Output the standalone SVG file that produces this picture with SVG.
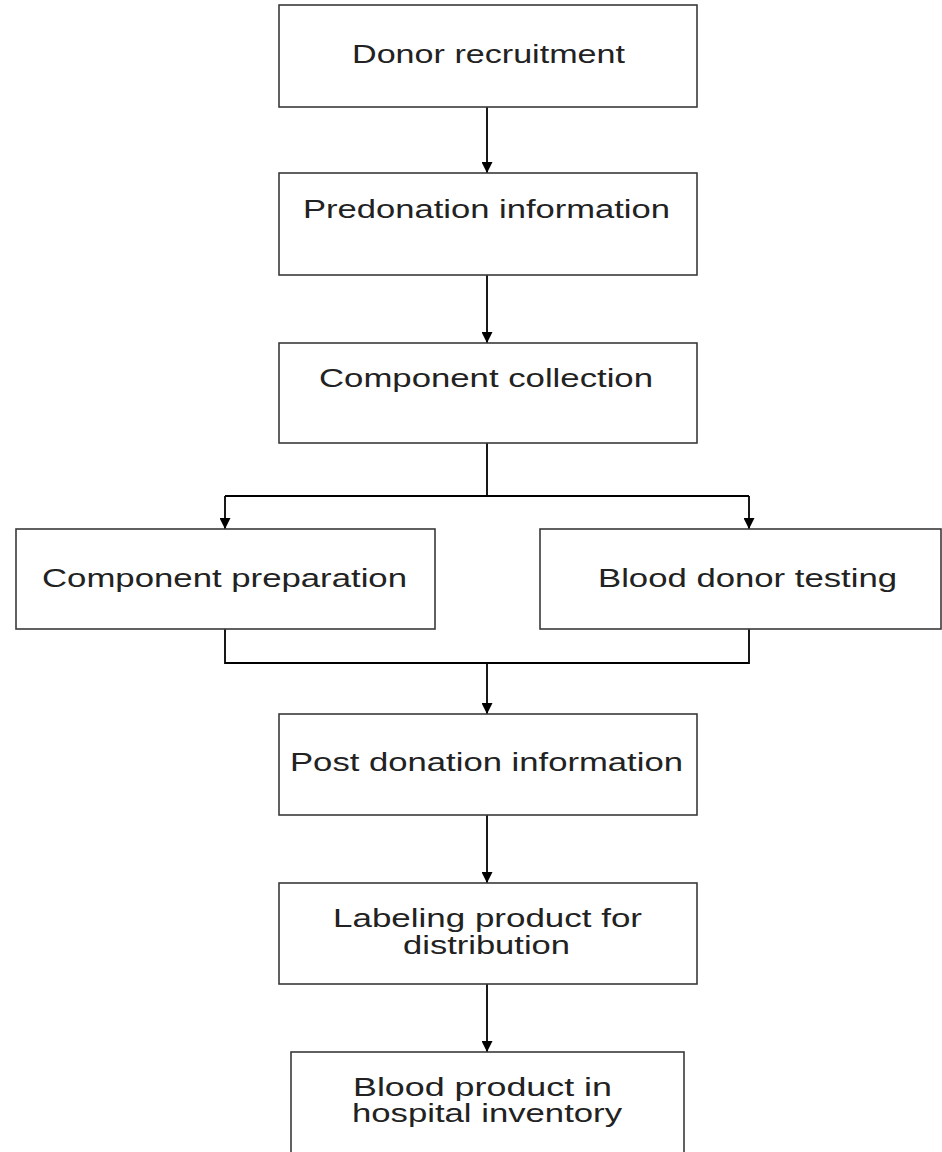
<svg xmlns="http://www.w3.org/2000/svg" width="942" height="1152" viewBox="0 0 942 1152">
<defs>
<marker id="ah" viewBox="0 0 10 10" refX="10" refY="5" markerWidth="11" markerHeight="11" markerUnits="userSpaceOnUse" orient="auto">
<path d="M0,0 L10,5 L0,10 Z" fill="#000"/>
</marker>
<style>
.box{fill:#fff;stroke:#3a3a3a;stroke-width:1.6}
.lbl{font-family:"Liberation Sans",Arial,sans-serif;font-size:25px;fill:#222;text-anchor:middle}
.con{fill:none;stroke:#000;stroke-width:1.8}
.arr{fill:none;stroke:#000;stroke-width:1.8;marker-end:url(#ah)}
</style>
</defs>
<rect width="942" height="1152" fill="#fff"/>
<g id="connectors">
<path class="arr" d="M487,107 V173"/>
<path class="arr" d="M487,275 V343"/>
<path class="con" d="M487,443 V496 M225,496 H749"/>
<path class="arr" d="M225,496 V529"/>
<path class="arr" d="M749,496 V529"/>
<path class="con" d="M225,629 V663 H749 V629"/>
<path class="arr" d="M487,663 V714"/>
<path class="arr" d="M487,815 V883"/>
<path class="arr" d="M487,984 V1052"/>
</g>
<g id="donor-recruitment">
<rect class="box" x="279" y="5" width="418" height="102"/>
<text class="lbl" x="488.5" y="63" textLength="273" lengthAdjust="spacingAndGlyphs">Donor recruitment</text>
</g>
<g id="predonation-information">
<rect class="box" x="279" y="173" width="418" height="102"/>
<text class="lbl" x="486.5" y="218" textLength="367" lengthAdjust="spacingAndGlyphs">Predonation information</text>
</g>
<g id="component-collection">
<rect class="box" x="279" y="343" width="418" height="100"/>
<text class="lbl" x="486" y="387" textLength="334" lengthAdjust="spacingAndGlyphs">Component collection</text>
</g>
<g id="component-preparation">
<rect class="box" x="16" y="529" width="419" height="100"/>
<text class="lbl" x="224.5" y="587" textLength="365" lengthAdjust="spacingAndGlyphs">Component preparation</text>
</g>
<g id="blood-donor-testing">
<rect class="box" x="540" y="529" width="401" height="100"/>
<text class="lbl" x="747.5" y="587" textLength="299" lengthAdjust="spacingAndGlyphs">Blood donor testing</text>
</g>
<g id="post-donation-information">
<rect class="box" x="279" y="714" width="418" height="101"/>
<text class="lbl" x="486.5" y="771" textLength="393" lengthAdjust="spacingAndGlyphs">Post donation information</text>
</g>
<g id="labeling-product">
<rect class="box" x="279" y="883" width="418" height="101"/>
<text class="lbl" x="487.5" y="927" textLength="309" lengthAdjust="spacingAndGlyphs">Labeling product for</text>
<text class="lbl" x="486.5" y="954" textLength="167" lengthAdjust="spacingAndGlyphs">distribution</text>
</g>
<g id="hospital-inventory">
<rect class="box" x="291" y="1052" width="393" height="102"/>
<text class="lbl" x="482.5" y="1096" textLength="259" lengthAdjust="spacingAndGlyphs">Blood product in</text>
<text class="lbl" x="487" y="1122" textLength="270" lengthAdjust="spacingAndGlyphs">hospital inventory</text>
</g>
</svg>
